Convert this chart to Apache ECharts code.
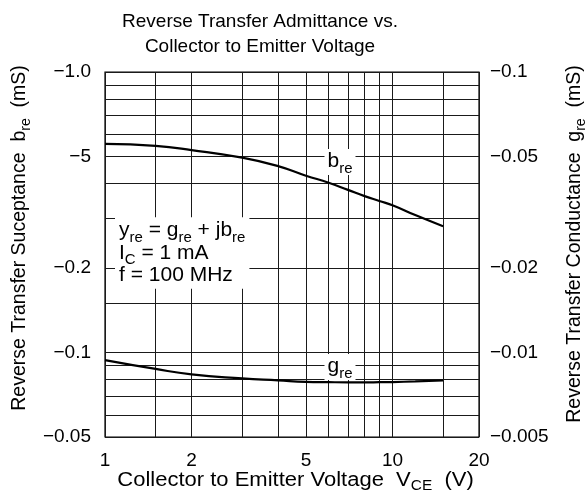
<!DOCTYPE html>
<html><head><meta charset="utf-8">
<script src="https://cdn.jsdelivr.net/npm/echarts@6/dist/echarts.min.js"></script>
<style>html,body{margin:0;padding:0;background:#fff}#c{width:587px;height:504px}</style>
</head><body><div id="c"></div>
<script>
// Collector-emitter voltage (V)
const vce = [1, 1.5, 2, 3, 4, 5, 6, 7, 8, 9, 10, 12, 15];
// Reverse transfer susceptance b_re (mS)
const bre = [-0.554, -0.545, -0.527, -0.495, -0.462, -0.427, -0.403, -0.380, -0.361, -0.347, -0.335, -0.309, -0.282];
// Reverse transfer conductance g_re (mS)
const gre = [-0.00940, -0.00874, -0.00836, -0.00809, -0.00796, -0.00786, -0.00784, -0.00783, -0.00783, -0.00784, -0.00785, -0.00789, -0.00795];

const xTickLabels = [1, 2, 5, 10, 20];
const xGridValues = [1, 1.5, 2, 3, 4, 5, 6, 7, 8, 9, 10, 15, 20];
const leftTickValues = [-1.0, -0.5, -0.2, -0.1, -0.05];
const leftTickLabels = ['\u22121.0', '\u22125', '\u22120.2', '\u22120.1', '\u22120.05'];
const rightTickValues = [-0.1, -0.05, -0.02, -0.01, -0.005];
const rightTickLabels = ['\u22120.1', '\u22120.05', '\u22120.02', '\u22120.01', '\u22120.005'];
const leftGridValues = [-0.05, -0.06, -0.07, -0.08, -0.09, -0.1, -0.15, -0.2, -0.3, -0.4, -0.5, -0.6, -0.7, -0.8, -0.9, -1.0];

const FF = '"Liberation Sans", Arial, Helvetica, sans-serif';
const mag = v => Math.abs(v);
function pickLabel(values, labels, v) {
  for (let i = 0; i < values.length; i++) {
    const a = Math.abs(values[i]);
    if (Math.abs(a - v) / a < 1e-6) return labels[i];
  }
  return '';
}
function richFor(F, S, lh, drop) {
  return {
    n: {fontSize: F, fontFamily: FF, color: '#000', lineHeight: lh},
    s: {fontSize: S, fontFamily: FF, color: '#000', lineHeight: lh, padding: [drop, 0, 0, 0]}
  };
}
function textEl(x, y, text, opts) {
  return {
    type: 'text', x: x, y: y, rotation: opts.rot || 0, scaleX: opts.sx || 1, z: 100,
    style: {
      text: text, rich: richFor(opts.F, opts.S, opts.lh || Math.round(opts.F * 1.2), opts.drop),
      fontFamily: FF, fontSize: opts.F, fill: '#000',
      align: 'center', verticalAlign: 'middle', textAlign: 'center', textVerticalAlign: 'middle',
      backgroundColor: opts.bg || 'transparent', padding: opts.pad || 0
    }
  };
}

const chart = echarts.init(document.getElementById('c'), null, {renderer: 'canvas'});
chart.setOption({
  backgroundColor: '#fff',
  animation: false,
  title: {
    text: 'Reverse Transfer Admittance vs.\nCollector to Emitter Voltage',
    left: 260, top: 9, padding: 0, textAlign: 'center',
    textStyle: {fontSize: 19, fontWeight: 'normal', color: '#000', fontFamily: FF, lineHeight: 25}
  },
  grid: {left: 105, right: 108, top: 72, bottom: 67, show: true, borderColor: '#000', borderWidth: 1.2, backgroundColor: 'transparent'},
  xAxis: {
    type: 'log', logBase: 10, min: 1, max: 20,
    axisLine: {show: false}, axisTick: {show: false, customValues: xGridValues},
    axisLabel: {customValues: xTickLabels, margin: 14, fontSize: 19, color: '#000', fontFamily: FF,
      formatter: v => pickLabel(xTickLabels, xTickLabels.map(String), v)},
    splitLine: {show: true, lineStyle: {color: '#1a1a1a', width: 1}},
    minorTick: {show: false}, minorSplitLine: {show: false}
  },
  yAxis: [{
    type: 'log', logBase: 10, min: mag(-0.05), max: mag(-1.0), position: 'left',
    axisLine: {show: false}, axisTick: {show: false, customValues: leftGridValues.map(mag)},
    axisLabel: {customValues: leftTickValues.map(mag), margin: 14, fontSize: 19, color: '#000', fontFamily: FF,
      formatter: v => pickLabel(leftTickValues, leftTickLabels, v)},
    splitLine: {show: true, lineStyle: {color: '#1a1a1a', width: 1}}
  }, {
    type: 'log', logBase: 10, min: mag(-0.005), max: mag(-0.1), position: 'right',
    axisLine: {show: false}, axisTick: {show: false, customValues: rightTickValues.map(mag)},
    axisLabel: {customValues: rightTickValues.map(mag), margin: 11, fontSize: 19, color: '#000', fontFamily: FF,
      formatter: v => pickLabel(rightTickValues, rightTickLabels, v)},
    splitLine: {show: false}
  }],
  series: [{
    name: 'b_re', type: 'line', yAxisIndex: 0, smooth: true, showSymbol: false, symbol: 'none',
    lineStyle: {color: '#000', width: 2.2}, z: 5,
    data: vce.map((x, i) => [x, mag(bre[i])])
  }, {
    name: 'g_re', type: 'line', yAxisIndex: 1, smooth: true, showSymbol: false, symbol: 'none',
    lineStyle: {color: '#000', width: 2.2}, z: 5,
    data: vce.map((x, i) => [x, mag(gre[i])])
  }],
  graphic: [
    textEl(20, 238, '{n|Reverse Transfer Suceptance  b}{s|re}{n|  (mS)}', {rot: Math.PI / 2, F: 19.5, S: 14, drop: 12}),
    textEl(575, 244, '{n|Reverse Transfer Conductance  g}{s|re}{n|  (mS)}', {rot: Math.PI / 2, F: 19.5, S: 14, drop: 12}),
    textEl(295.5, 480, '{n|Collector to Emitter Voltage  V}{s|CE}{n|  (V)}', {F: 20, S: 14, drop: 12, sx: 1.1}),
    textEl(340, 162, '{n|b}{s|re}', {F: 21, S: 15, drop: 14, bg: '#fff', pad: [0, 3, 1, 3]}),
    textEl(340, 367, '{n|g}{s|re}', {F: 21, S: 15, drop: 14, bg: '#fff', pad: [0, 3, 1, 3]}),
    {
      type: 'text', left: 115, top: 216, z: 100,
      style: {
        text: '{n|y}{s|re}{n| = g}{s|re}{n| + jb}{s|re}\n{n|I}{s|C}{n| = 1 mA}\n{n|f = 100 MHz}',
        rich: richFor(21, 15, 22.5, 14),
        backgroundColor: '#fff', padding: [2, 4, 2, 4], fill: '#000'
      }
    }
  ]
});
</script>
</body></html>
